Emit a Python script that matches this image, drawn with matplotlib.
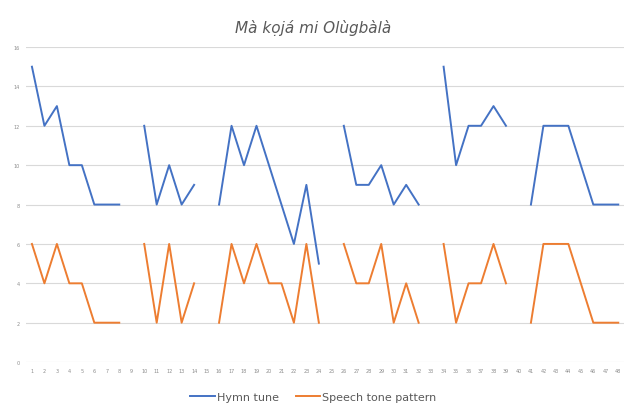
import numpy as np
import matplotlib.pyplot as plt

nan = np.nan
positions = list(range(1, 49))

# hymn tune (blue), gaps between phrases left empty
hymn = [15, 12, 13, 10, 10, 8, 8, 8, nan,
        12, 8, 10, 8, 9, nan,
        8, 12, 10, 12, 10, 8, 6, 9, 5, nan,
        12, 9, 9, 10, 8, 9, 8, nan,
        15, 10, 12, 12, 13, 12, nan,
        8, 12, 12, 12, 10, 8, 8, 8]

# speech tone pattern (orange)
speech = [6, 4, 6, 4, 4, 2, 2, 2, nan,
          6, 2, 6, 2, 4, nan,
          2, 6, 4, 6, 4, 4, 2, 6, 2, nan,
          6, 4, 4, 6, 2, 4, 2, nan,
          6, 2, 4, 4, 6, 4, nan,
          2, 6, 6, 6, 4, 2, 2, 2]

fig = plt.figure(figsize=(6.27, 4.14), dpi=100)
ax = fig.add_axes([0.041, 0.123, 0.955, 0.761])

ax.plot(positions, hymn, color='#4472C4', lw=1.4, label='Hymn tune')
ax.plot(positions, speech, color='#ED7D31', lw=1.4, label='Speech tone pattern')

ax.set_xlim(0.5, 48.5)
ax.set_ylim(0, 16)
ax.set_yticks(range(0, 17, 2))
ax.set_xticks(positions)
ax.tick_params(axis='both', length=0, labelsize=3.5, labelcolor='#8c8c8c', pad=4)
ax.grid(axis='y', color='#D9D9D9', lw=0.8)
ax.set_axisbelow(True)
for s in ax.spines.values():
    s.set_visible(False)

fig.text(0.5, 0.933, 'Mà kọjá mi Olùgbàlà', ha='center', va='center',
         fontsize=11, style='italic', color='#595959')

fig.legend(loc='center', bbox_to_anchor=(0.5, 0.038), ncol=2, frameon=False,
           fontsize=8, labelcolor='#595959', handlelength=2.2, handletextpad=0.2,
           columnspacing=1.5)

fig.savefig('out.png', dpi=100)
